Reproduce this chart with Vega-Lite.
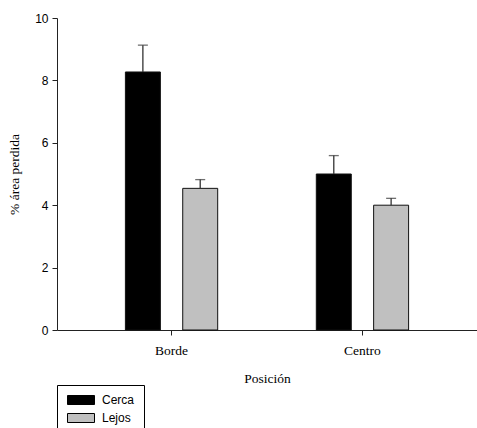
{
  "$schema": "https://vega.github.io/schema/vega-lite/v6.json",
  "width": 420,
  "height": 312,
  "autosize": "none",
  "padding": {"left": 57, "top": 18, "right": 0, "bottom": 98},
  "background": "white",
  "config": {"view": {"stroke": null}, "axis": {"grid": false}},
  "data": {"values": [
    {"pos": "Borde", "grupo": "Cerca", "val": 8.27, "hi": 9.13},
    {"pos": "Borde", "grupo": "Lejos", "val": 4.54, "hi": 4.82},
    {"pos": "Centro", "grupo": "Cerca", "val": 5.0, "hi": 5.59},
    {"pos": "Centro", "grupo": "Lejos", "val": 4.0, "hi": 4.22}
  ]},
  "encoding": {
    "x": {
      "field": "pos", "type": "nominal", "title": "Posición",
      "scale": {"paddingInner": 0, "paddingOuter": 0.1},
      "axis": {
        "labelAngle": 0, "tickSize": 5, "labelPadding": 8,
        "labelFont": "Liberation Serif", "labelFontSize": 13.5, "labelColor": "#000",
        "titleFont": "Liberation Serif", "titleFontSize": 13.5, "titleFontWeight": "normal", "titleColor": "#000",
        "titlePadding": 15, "domainColor": "#222", "tickColor": "#222"
      }
    },
    "xOffset": {"field": "grupo", "type": "nominal", "scale": {"paddingInner": 0.39, "paddingOuter": 0.86}}
  },
  "layer": [
    {
      "mark": {"type": "bar", "stroke": "#111", "strokeWidth": 1},
      "encoding": {
        "y": {
          "field": "val", "type": "quantitative", "title": "% área perdida",
          "scale": {"domain": [0, 10], "nice": false},
          "axis": {
            "values": [0, 2, 4, 6, 8, 10], "tickSize": 5, "labelPadding": 4,
            "labelFont": "Liberation Sans", "labelFontSize": 12, "labelColor": "#000",
            "titleFont": "Liberation Serif", "titleFontSize": 13.5, "titleFontWeight": "normal", "titleColor": "#000",
            "titlePadding": 13, "domainColor": "#222", "tickColor": "#222"
          }
        },
        "fill": {
          "field": "grupo", "type": "nominal",
          "scale": {"domain": ["Cerca", "Lejos"], "range": ["#000000", "#c0c0c0"]},
          "legend": {
            "orient": "none", "legendX": 0, "legendY": 367, "title": null,
            "strokeColor": "#000", "fillColor": "#fff", "padding": 9,
            "symbolType": "M-1,-1H5V1H-1Z", "symbolSize": 81,
            "symbolStrokeColor": "#000", "symbolStrokeWidth": 1,
            "labelFont": "Liberation Sans", "labelFontSize": 12, "labelColor": "#000",
            "labelOffset": 24, "rowPadding": 4
          }
        }
      }
    },
    {
      "mark": {"type": "rule", "color": "#333", "strokeWidth": 1.3},
      "encoding": {
        "y": {"field": "val", "type": "quantitative"},
        "y2": {"field": "hi"}
      }
    },
    {
      "mark": {"type": "tick", "orient": "horizontal", "size": 10, "thickness": 1.3, "color": "#333"},
      "encoding": {
        "y": {"field": "hi", "type": "quantitative"}
      }
    }
  ]
}
